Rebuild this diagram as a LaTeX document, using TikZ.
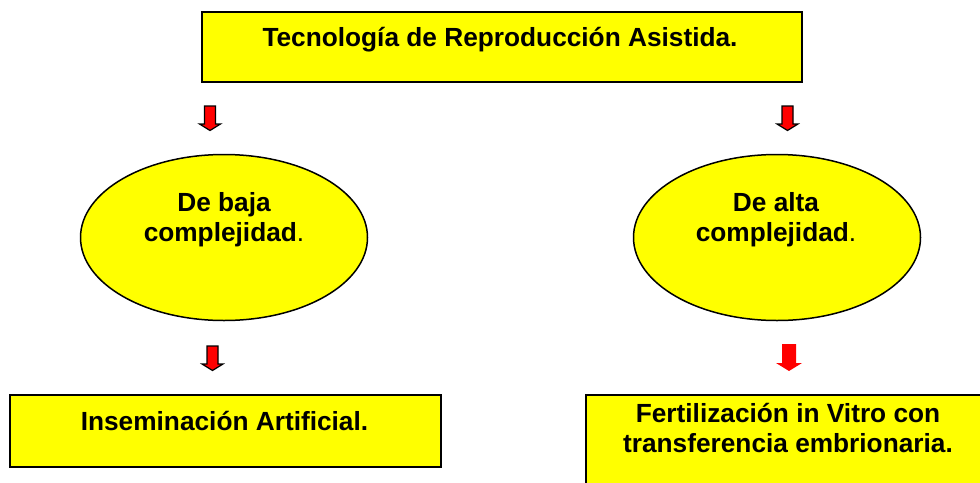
\documentclass[tikz,border=0pt]{standalone}
\usepackage{fontspec}
\setmainfont{Liberation Sans}
\usetikzlibrary{shapes.geometric}
\definecolor{boxyellow}{RGB}{255,255,0}
\definecolor{arrowred}{RGB}{255,0,0}
\begin{document}
\begin{tikzpicture}[x=1pt,y=1pt,
  box/.style={draw=black, line width=2pt, fill=boxyellow, rectangle, inner sep=0pt, anchor=north west},
  oval/.style={draw=black, line width=1.5pt, fill=boxyellow, ellipse, inner sep=0pt, minimum width=287pt, minimum height=166pt},
  lbl/.style={font=\fontsize{26.25}{30}\selectfont\bfseries, inner sep=0pt, anchor=base, text=black},
  outlinedarrow/.style={draw=black, line width=1.2pt, fill=arrowred, line join=miter},
  plainarrow/.style={fill=arrowred},
  smallarrow/.pic={\path[pic actions] (-5.5,0) -- (5.5,0) -- (5.5,-18) -- (10.5,-18) -- (0,-24.5) -- (-10.5,-18) -- (-5.5,-18) -- cycle;},
  bigarrow/.pic={\path[pic actions] (-7,0) -- (7,0) -- (7,-19) -- (13,-19) -- (0,-27) -- (-13,-19) -- (-7,-19) -- cycle;}
]
\useasboundingbox (0,0) rectangle (980,-482);
\fill[white] (0,0) rectangle (980,-482);

% boxes and ovals
\node[box, minimum width=599.5pt, minimum height=70pt] (top) at (201,-11) {};
\node[oval] (baja) at (224,-237.5) {};
\node[oval] (alta) at (777,-237.5) {};
\node[box, minimum width=431.5pt, minimum height=71.5pt] (insem) at (8.5,-394) {};
\node[box, minimum width=420pt, minimum height=120pt] (fiv) at (585,-394) {};

% labels
\node[lbl] (toptext) at (500,-46) {Tecnología de Reproducción Asistida.};
\node[lbl] (bajatext) at (224,-211) {\begin{tabular}[t]{@{}c@{}}De baja\\complejidad{\mdseries.}\end{tabular}};
\node[lbl] (altatext) at (776,-211) {\begin{tabular}[t]{@{}c@{}}De alta\\complejidad{\mdseries.}\end{tabular}};
\node[lbl] (insemtext) at (224.5,-430) {Inseminación Artificial.};
\node[lbl] (fivtext) at (788,-422.5) {\begin{tabular}[t]{@{}c@{}}Fertilización in Vitro con\\transferencia embrionaria.\end{tabular}};

% block arrows
\coordinate (a1) at (210,-106);
\coordinate (a2) at (787.5,-106);
\coordinate (a3) at (212.5,-346);
\coordinate (a4) at (789,-344);
\pic[outlinedarrow] at (a1) {smallarrow};
\pic[outlinedarrow] at (a2) {smallarrow};
\pic[outlinedarrow] at (a3) {smallarrow};
\pic[plainarrow] at (a4) {bigarrow};
\end{tikzpicture}
\end{document}
